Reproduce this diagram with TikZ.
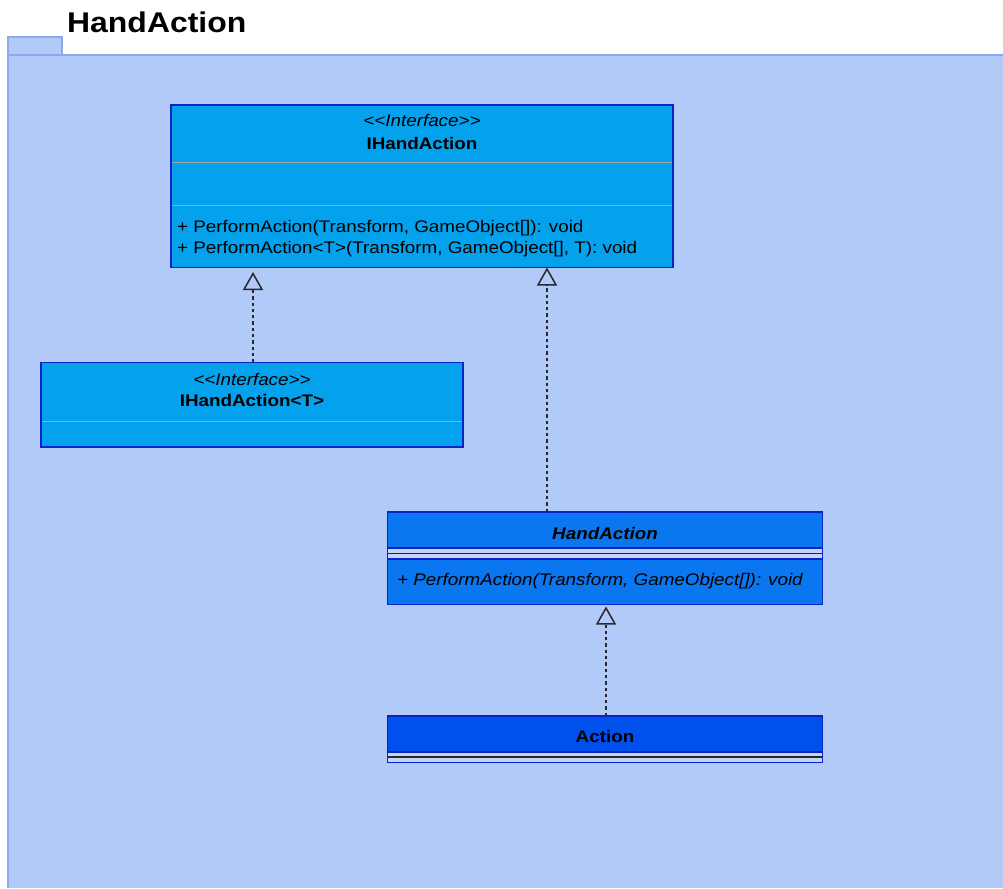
\documentclass[tikz,border=0pt]{standalone}
\usepackage{fontspec}
\setmainfont{Liberation Sans}[FakeStretch=1.12]
\usetikzlibrary{arrows.meta}
\definecolor{pkgfill}{RGB}{178,202,247}
\definecolor{pkgline}{RGB}{140,168,238}
\definecolor{stripfill}{RGB}{196,212,250}
\definecolor{ifill}{RGB}{4,161,236}
\definecolor{afill}{RGB}{10,118,240}
\definecolor{cfill}{RGB}{0,80,238}
\definecolor{bline}{RGB}{10,35,200}
\definecolor{divgray}{RGB}{165,165,165}
\definecolor{conn}{RGB}{40,40,45}
\tikzset{
  box/.style={draw=bline, line width=1.5pt, inner sep=0pt, outer sep=0pt, anchor=north west},
  txt/.style={inner sep=0pt, font=\fontsize{16.8}{20}\selectfont, text=black},
  realize/.style={draw=conn, line width=1.7pt, dash pattern=on 3.3pt off 3pt,
     -{Triangle[open, width=20pt, length=18pt, line width=1.5pt]}},
}
\begin{document}
\begin{tikzpicture}[x=1pt,y=-1pt]
\useasboundingbox (0,0) rectangle (1003,888);
\fill[white] (0,0) rectangle (1003,888);
% package
\draw[fill=pkgfill, draw=pkgline, line width=1.2pt] (8,37) rectangle (62,55);
\fill[pkgfill] (8,55) rectangle (1003,888);
\draw[pkgline, line width=1.2pt] (8,888) -- (8,55) -- (1003,55);
\node[anchor=base west, inner sep=0pt, font=\fontsize{28.5}{34}\selectfont\bfseries] (title) at (67,33) {HandAction};

% IHandAction
\node[box, fill=ifill, minimum width=502pt, minimum height=162.5pt] (ih) at (171,105) {};
\draw[divgray, line width=1.2pt] (171.8,162.5) -- (672.2,162.5);
\draw[divgray, line width=1.2pt] (171.8,205.5) -- (672.2,205.5);
\node[txt, anchor=base] (ihs) at (422,126.5) {\itshape {<}{<}Interface{>}{>}};
\node[txt, anchor=base] (ihn) at (422,149) {\bfseries IHandAction};
\node[txt, anchor=base west] (ihm1) at (177,232) {+ PerformAction(Transform, GameObject[]): void};
\node[txt, anchor=base west] (ihm2) at (177,253.5) {+ PerformAction{<}T{>}(Transform, GameObject[], T): void};

% IHandAction<T>
\node[box, fill=ifill, minimum width=422pt, minimum height=84.5pt] (iht) at (41,362.5) {};
\draw[divgray, line width=1.2pt] (41.8,421.5) -- (462.2,421.5);
\node[txt, anchor=base] (ihts) at (252,385) {\itshape {<}{<}Interface{>}{>}};
\node[txt, anchor=base] (ihtn) at (252,406.5) {\bfseries IHandAction{<}T{>}};

% HandAction
\node[box, fill=afill, minimum width=435pt, minimum height=92.5pt] (ha) at (387.5,512) {};
\fill[stripfill] (388.2,548) rectangle (821.8,559);
\draw[bline, line width=1.5pt] (387.5,548) -- (822.5,548);
\draw[bline, line width=1.5pt] (387.5,559) -- (822.5,559);
\draw[black!85, line width=1.6pt] (387.5,553.5) -- (822.5,553.5);
\node[txt, anchor=base] (han) at (605,539) {\bfseries\itshape HandAction};
\node[txt, anchor=base west] (ham) at (397,585) {\itshape + PerformAction(Transform, GameObject[]): void};

% Action
\node[box, fill=cfill, minimum width=435pt, minimum height=46pt] (ac) at (387.5,716) {};
\fill[stripfill] (388.2,752) rectangle (821.8,762);
\draw[bline, line width=1.5pt] (387.5,752) -- (822.5,752);
\draw[black!85, line width=1.6pt] (387.5,757) -- (822.5,757);
\draw[bline, line width=1.5pt] (387.5,716) rectangle (822.5,762.3);
\node[txt, anchor=base] (acn) at (605,742.5) {\bfseries Action};

% connectors
\draw[realize, shorten >=4.5pt] (iht.north -| 253,0) -- (ih.south -| 253,0);
\draw[realize] (ha.north -| 547,0) -- (ih.south -| 547,0);
\draw[realize, shorten >=2pt] (ac.north -| 606,0) -- (ha.south -| 606,0);
\end{tikzpicture}
\end{document}
